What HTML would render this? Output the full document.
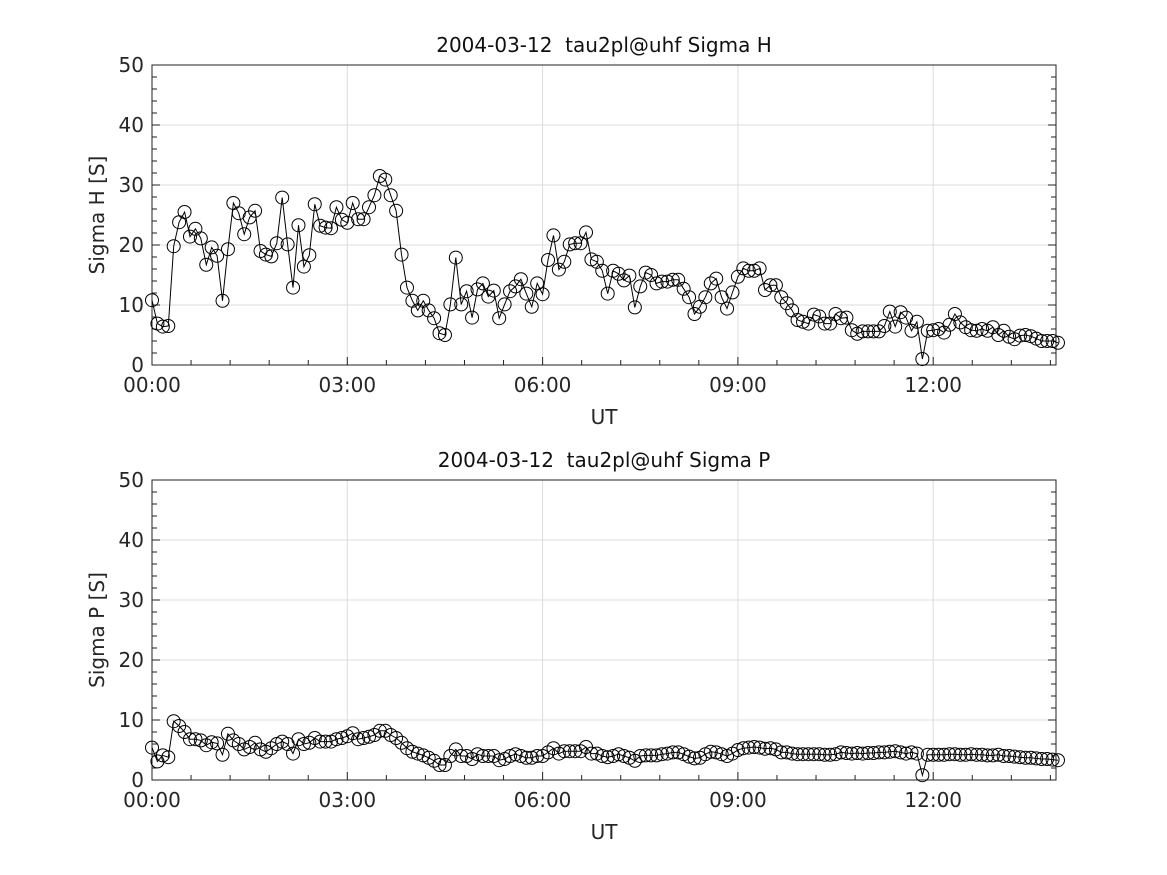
<!DOCTYPE html>
<html><head><meta charset="utf-8"><style>
html,body{margin:0;padding:0;background:#fff;}
svg{display:block;font-family:"DejaVu Sans","Liberation Sans",sans-serif;}
</style></head><body>
<svg id="fig" width="1167" height="875"></svg>
<script>
const tickHours=[0,3,6,9,12];
const tickLabels=["00:00","03:00","06:00","09:00","12:00"];
const yTicks=[0,10,20,30,40,50];
const stepMinutes=5;
const sigmaH=[10.8,6.9,6.4,6.5,19.8,23.8,25.5,21.4,22.7,21.1,16.7,19.6,18.2,10.7,19.3,27,25.3,21.8,24.6,25.7,19,18.4,18.1,20.3,27.9,20.1,12.9,23.3,16.4,18.3,26.8,23.2,22.9,22.8,26.3,24.2,23.7,27,24.3,24.3,26.3,28.3,31.5,
30.9,28.3,25.7,18.4,12.9,10.7,9.1,10.7,9.1,7.8,5.3,5.0,10.1,17.9,10.1,12.3,7.9,12.6,13.6,11.4,12.4,7.8,10.1,12.3,13.1,14.3,11.9,9.7,13.6,11.8,17.5,21.6,15.9,17.2,20.1,20.3,20.3,22.1,17.6,17.2,15.7,11.9,
15.7,15.2,14.1,14.9,9.6,13.1,15.4,15.0,13.6,13.9,13.9,14.2,14.2,12.7,11.3,8.5,9.7,11.3,13.6,14.4,11.3,9.4,12.1,14.7,16.1,15.7,15.7,16.1,12.5,13.3,13.3,11.3,10.3,9.1,7.5,7.2,6.9,8.4,8.1,6.9,6.9,8.5,7.8,
7.9,5.8,5.2,5.6,5.6,5.6,5.6,6.5,8.9,6.4,8.8,7.9,5.7,7.2,1.0,5.7,5.8,6.0,5.4,6.7,8.5,7.1,6.3,5.8,5.7,6.0,5.7,6.3,5.0,5.7,4.7,4.3,4.9,5.0,4.8,4.4,4.0,4.0,4.0,3.7];
const sigmaP=[5.4,3.1,4.1,3.8,9.8,9.0,8.0,6.8,6.8,6.6,5.8,6.3,6.1,4.2,7.7,6.6,6.0,5.1,5.5,6.2,5.1,4.7,5.3,6.0,6.4,6.0,4.4,6.8,6.0,6.2,7.0,6.4,6.4,6.4,6.8,7.0,7.3,7.8,6.8,7.0,7.2,7.5,8.2,
8.2,7.5,7.0,6.2,5.3,4.7,4.4,4.1,3.7,3.2,2.5,2.5,4.0,5.1,4.0,4.0,3.5,4.3,4.0,4.0,4.0,3.3,3.5,4.0,4.3,4.0,3.7,3.7,4.0,4.0,4.6,5.3,4.4,4.8,4.8,4.8,4.8,5.5,4.4,4.4,4.0,3.8,
4.0,4.3,4.0,3.7,3.2,4.0,4.1,4.1,4.1,4.3,4.4,4.6,4.6,4.3,3.9,3.6,3.7,4.3,4.7,4.6,4.3,4.0,4.4,5.0,5.3,5.4,5.5,5.4,5.2,5.3,5.1,4.6,4.6,4.4,4.3,4.3,4.3,4.3,4.3,4.2,4.2,4.3,4.6,
4.5,4.4,4.5,4.4,4.5,4.5,4.6,4.6,4.7,4.8,4.6,4.4,4.6,4.4,0.8,4.2,4.2,4.2,4.2,4.3,4.3,4.2,4.2,4.3,4.2,4.2,4.1,4.1,4.2,4.0,4.0,3.9,3.8,3.7,3.7,3.6,3.5,3.5,3.4,3.3];

const NS="http://www.w3.org/2000/svg";
const svg=document.getElementById('fig');
function el(tag,attrs,parent){const e=document.createElementNS(NS,tag);for(const k in attrs)e.setAttribute(k,attrs[k]);(parent||svg).appendChild(e);return e;}
const X0=152,X1=1056,PXH=65.1;
function xScale(h){return X0+h*PXH;}

function panel(top,title,ylabel,data,key){
  const bot=top+300;
  const yScale=v=>bot-v*6;
  const g=el('g',{});
  
  
  el('rect',{x:X0,y:top,width:X1-X0,height:300,fill:'#fff'},g);
  tickHours.forEach(h=>{const l=el('line',{x1:xScale(h),x2:xScale(h),y1:top,y2:bot,stroke:'#dcdcdc','stroke-width':1},g);
    });
  yTicks.forEach(v=>{const l=el('line',{x1:X0,x2:X1,y1:yScale(v),y2:yScale(v),stroke:'#dcdcdc','stroke-width':1},g);
    });
  for(let v=0;v<=50;v+=2){const len=(v%10===0)?8:5;
    el('line',{x1:X0,x2:X0+len,y1:yScale(v),y2:yScale(v),stroke:'#222','stroke-width':1},g);
    el('line',{x1:X1,x2:X1-len,y1:yScale(v),y2:yScale(v),stroke:'#222','stroke-width':1},g);}
  for(let m=0;m<=13.9*60;m+=36){const h=m/60;const len=(m%180===0)?8:5;
    el('line',{x1:xScale(h),x2:xScale(h),y1:bot,y2:bot-len,stroke:'#222','stroke-width':1},g);}
  el('rect',{x:X0,y:top,width:X1-X0,height:300,fill:'none',stroke:'#222','stroke-width':1},g);
  tickHours.forEach((h,i)=>{const t=el('text',{x:xScale(h),y:bot+27,'text-anchor':'middle','font-size':20,fill:'#262626'},g);t.textContent=tickLabels[i];
    });
  yTicks.forEach(v=>{const t=el('text',{x:X0-8,y:yScale(v)+7,'text-anchor':'end','font-size':20,fill:'#262626'},g);t.textContent=v;
    });
  const xt=el('text',{x:604,y:bot+59,'text-anchor':'middle','font-size':20,fill:'#262626'},g);xt.textContent='UT';
  
  const yt=el('text',{x:0,y:0,'text-anchor':'middle','font-size':20,fill:'#262626',transform:`translate(104,${top+150}) rotate(-90)`},g);yt.textContent=ylabel;
  
  const tt=el('text',{x:604,y:top-13,'text-anchor':'middle','font-size':20,fill:'#111',style:'white-space:pre'},g);tt.textContent=title;
  
  const pts=data.map((v,i)=>xScale(i*stepMinutes/60).toFixed(1)+','+yScale(v).toFixed(1)).join(' ');
  const pl=el('polyline',{points:pts,fill:'none',stroke:'#000','stroke-width':1},g);
  
  data.forEach((v,i)=>{const c=el('circle',{cx:xScale(i*stepMinutes/60),cy:yScale(v),r:6.5,fill:'none',stroke:'#000','stroke-width':1},g);
    });
}
panel(65,'2004-03-12  tau2pl@uhf Sigma H','Sigma H [S]',sigmaH,'sigma-h');
panel(480,'2004-03-12  tau2pl@uhf Sigma P','Sigma P [S]',sigmaP,'sigma-p');
</script>
</body></html>
